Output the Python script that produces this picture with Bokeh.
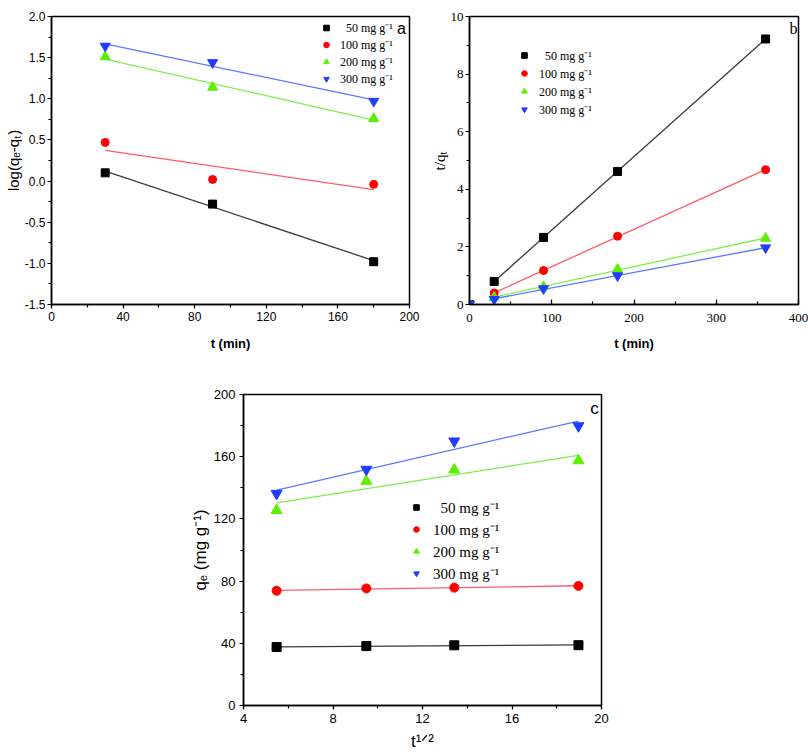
import numpy as np
from bokeh.plotting import figure
from bokeh.layouts import column, row, Spacer
from bokeh.models import (Legend, LegendItem, Label, SingleIntervalTicker,
                          NumeralTickFormatter, Range1d)
from bokeh.embed import file_html
from bokeh.resources import INLINE

# ---------------- data ----------------
series = ["50 mg g⁻¹", "100 mg g⁻¹", "200 mg g⁻¹", "300 mg g⁻¹"]
marker_colors = ["#000000", "#ff0000", "#5cf000", "#1f3cff"]
line_colors = ["#3a3a3a", "#ff5a6e", "#7cf04a", "#5a78ff"]
markers = ["square", "circle", "triangle", "inverted_triangle"]

# panel a : pseudo-first-order
a_t = [30, 90, 180]
a_vals = [
    [0.10, -0.28, -0.98],
    [0.47, 0.02, -0.04],
    [1.51, 1.14, 0.76],
    [1.64, 1.44, 0.97],
]

# panel b : pseudo-second-order
b_t = [0, 30, 90, 180, 360]
b_vals = [
    [0.0, 0.80, 2.33, 4.62, 9.22],
    [0.0, 0.40, 1.18, 2.37, 4.68],
    [0.0, 0.25, 0.62, 1.22, 2.30],
    [0.0, 0.18, 0.55, 1.00, 1.97],
]

# panel c : intraparticle diffusion
c_x = [5.48, 9.49, 13.42, 18.97]
c_vals = [
    [37.6, 38.2, 38.7, 38.8],
    [73.8, 75.3, 75.8, 76.9],
    [125.5, 144.3, 151.6, 157.5],
    [136.3, 151.8, 170.0, 179.8],
]

SANS = "Liberation Sans"
SERIF = "Liberation Serif"


def style(p, font, tick_size, xint, yint, x_in=False):
    p.outline_line_color = "black"
    p.outline_line_width = 1.5
    p.grid.visible = False
    p.background_fill_color = "white"
    p.border_fill_color = "white"
    p.xaxis.ticker = SingleIntervalTicker(interval=xint, num_minor_ticks=2)
    p.yaxis.ticker = SingleIntervalTicker(interval=yint, num_minor_ticks=2)
    for ax in (p.xaxis[0], p.yaxis[0]):
        ax.axis_line_color = "black"
        ax.axis_line_width = 1.5
        ax.major_tick_line_width = 1.2
        ax.minor_tick_line_width = 1.2
        ax.major_tick_out = 4
        ax.major_tick_in = 0
        ax.minor_tick_out = 3
        ax.minor_tick_in = 0
        ax.major_label_text_font = font
        ax.major_label_text_font_size = tick_size
        ax.major_label_text_color = "black"
        ax.major_label_standoff = 3
        ax.axis_label_text_color = "black"
        ax.axis_label_text_font_style = "normal"
    if x_in:
        ax = p.xaxis[0]
        ax.major_tick_out = 0
        ax.major_tick_in = 5
        ax.minor_tick_out = 0
        ax.minor_tick_in = 3
        ax.major_label_standoff = 9


def add_series(p, xs, vals, size, fit_mask=None):
    rends = []
    for i, ys in enumerate(vals):
        xa = np.array(xs, dtype=float)
        ya = np.array(ys, dtype=float)
        m = xa > 0 if fit_mask else np.ones_like(xa, dtype=bool)
        k, b = np.polyfit(xa[m], ya[m], 1)
        lx = np.array([xa[m].min(), xa[m].max()])
        p.line(lx, k * lx + b, line_color=line_colors[i], line_width=1.3)
    for i, ys in enumerate(vals):
        sz = size + 2 if "triangle" in markers[i] else size
        r = p.scatter(xs, ys, marker=markers[i], size=sz,
                      fill_color=marker_colors[i], line_color=marker_colors[i])
        rends.append(r)
    return rends


def add_legend(p, rends, labels, loc, font_size, row_h, standoff):
    items = [LegendItem(label=l, renderers=[r]) for l, r in zip(labels, rends)]
    lg = Legend(items=items, location=loc, border_line_color=None,
                background_fill_alpha=0, padding=0, margin=0, spacing=0,
                glyph_width=14, glyph_height=row_h, label_height=row_h,
                label_standoff=standoff, label_text_font=SERIF,
                label_text_font_size=font_size, label_text_color="black")
    p.add_layout(lg, "center")


pad = "\u2007"
leg_labels = [pad + series[0]] + series[1:]

# ---------------- panel a ----------------
pa = figure(width=426, height=360, output_backend="svg", toolbar_location=None,
            x_range=Range1d(0, 200), y_range=Range1d(-1.5, 2.0),
            min_border_left=51, min_border_right=17, min_border_top=16,
            min_border_bottom=52)
style(pa, SANS, "12px", 40, 0.5)
pa.yaxis.major_label_standoff = 2
pa.yaxis.formatter = NumeralTickFormatter(format="0.0")
pa.xaxis.axis_label = "t (min)"
pa.xaxis.axis_label_text_font = SANS
pa.xaxis.axis_label_text_font_style = "bold"
pa.xaxis.axis_label_text_font_size = "13px"
pa.xaxis.axis_label_standoff = 12
pa.yaxis.axis_label = "log(qₑ-qₜ)"
pa.yaxis.axis_label_text_font = SANS
pa.yaxis.axis_label_text_font_size = "15px"
pa.yaxis.axis_label_standoff = 0
ra = add_series(pa, a_t, a_vals, 8)
add_legend(pa, ra, leg_labels, (268, 217), "12px", 17, 7)
pa.add_layout(Label(x=195.5, y=1.86, text="a", text_font=SANS, text_font_size="16px",
                    text_align="center", text_baseline="middle", text_color="black"))

# ---------------- panel b ----------------
pb = figure(width=382, height=360, output_backend="svg", toolbar_location=None,
            x_range=Range1d(0, 400), y_range=Range1d(0, 10),
            min_border_left=43, min_border_right=10, min_border_top=7,
            min_border_bottom=56)
style(pb, SERIF, "13px", 100, 2, x_in=True)
pb.yaxis.major_label_standoff = 2
pb.xaxis.axis_label = "t (min)"
pb.xaxis.axis_label_text_font = SANS
pb.xaxis.axis_label_text_font_style = "bold"
pb.xaxis.axis_label_text_font_size = "13px"
pb.xaxis.axis_label_standoff = 11
pb.yaxis.axis_label = "t/qₜ"
pb.yaxis.axis_label_text_font = SERIF
pb.yaxis.axis_label_text_font_size = "15px"
pb.yaxis.axis_label_standoff = 0
rb = add_series(pb, b_t, b_vals, 8, fit_mask=True)
add_legend(pb, rb, leg_labels, (48, 186), "12px", 18, 8)
pb.add_layout(Label(x=394, y=9.6, text="b", text_font=SERIF, text_font_size="16px",
                    text_align="center", text_baseline="middle", text_color="black"))

# ---------------- panel c ----------------
pc = figure(width=628, height=395, output_backend="svg", toolbar_location=None,
            x_range=Range1d(4, 20), y_range=Range1d(0, 200),
            min_border_left=63, min_border_right=207, min_border_top=34,
            min_border_bottom=50)
style(pc, SANS, "13px", 4, 40)
pc.xaxis.major_label_standoff = 4
pc.yaxis.major_label_standoff = 4
pc.xaxis.axis_label = "t¹ᐟ²"
pc.xaxis.axis_label_text_font = SANS
pc.xaxis.axis_label_text_font_size = "17px"
pc.xaxis.axis_label_standoff = 6
pc.yaxis.axis_label = "qₑ (mg g⁻¹)"
pc.yaxis.axis_label_text_font = SANS
pc.yaxis.axis_label_text_font_size = "17px"
pc.yaxis.axis_label_standoff = 1
rc = add_series(pc, c_x, c_vals, 9)
add_legend(pc, rc, leg_labels, (166, 121), "15px", 22, 10)
pc.add_layout(Label(x=19.69, y=191, text="c", text_font=SANS, text_font_size="17px",
                    text_align="center", text_baseline="middle", text_color="black"))

lay = column(row(pa, pb), row(Spacer(width=180, height=395), pc))
open("out.html", "w").write(file_html(lay, INLINE))
